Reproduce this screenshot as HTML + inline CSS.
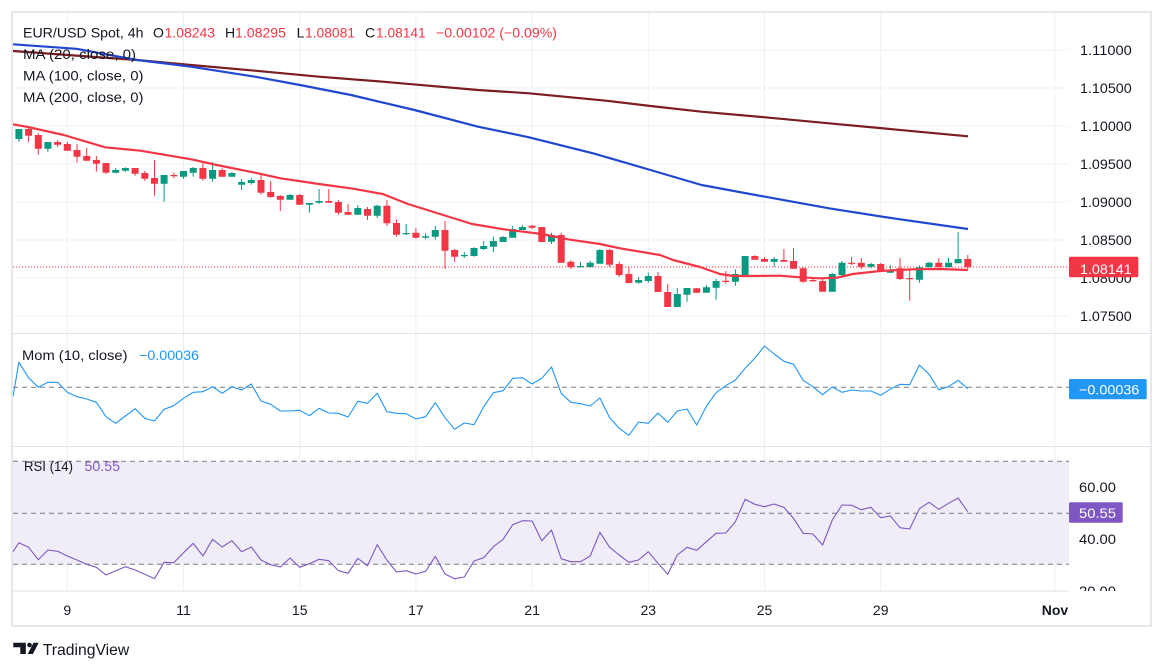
<!DOCTYPE html>
<html><head><meta charset="utf-8"><style>
html,body{margin:0;padding:0;background:#fff;}
body{width:1164px;height:671px;overflow:hidden;}
svg{display:block;font-family:"Liberation Sans",Arial,sans-serif;}
</style></head><body>
<svg width="1164" height="671" viewBox="0 0 1164 671" xmlns="http://www.w3.org/2000/svg">
<defs>
<clipPath id="cm"><rect x="13" y="13" width="1056" height="320"/></clipPath>
<clipPath id="cmo"><rect x="13" y="334" width="1056" height="112"/></clipPath>
<clipPath id="cr"><rect x="13" y="447" width="1056" height="144"/></clipPath>
<clipPath id="cra"><rect x="1069" y="447" width="82" height="144"/></clipPath>
</defs>
<rect x="0" y="0" width="1164" height="671" fill="#fff"/>
<!-- RSI band -->
<rect x="13" y="461.3" width="1056" height="103" fill="#f1edf8"/>
<!-- grid -->
<g stroke="#eef0f4" stroke-width="1">
<path d="M13 50H1069M13 88H1069M13 126H1069M13 164H1069M13 202H1069M13 240H1069M13 278H1069M13 316H1069"/>
<path d="M13 487.3H1069M13 539.3H1069"/>
<path d="M67.3 13V591M183.5 13V591M299.7 13V591M415.9 13V591M532.1 13V591M648.3 13V591M764.5 13V591M880.7 13V591M1055 13V591"/>
</g>
<!-- separators -->
<g stroke="#e0e3eb" stroke-width="1">
<path d="M12 333.5H1151M12 446.5H1151M12 591H1069"/>
</g>
<!-- frame -->
<rect x="12" y="12" width="1139" height="614" fill="none" stroke="#e6e7ec" stroke-width="2"/>

<!-- main pane -->
<g clip-path="url(#cm)">
<path d="M13 267H1069" stroke="#f23645" stroke-width="1" stroke-dasharray="1.2 1.8"/>
<polyline fill="none" stroke="#7b1c22" stroke-width="2.2" stroke-linejoin="round" points="12.8,51 137,60 191,65 255,70.7 319,76.7 382.7,81.7 478,90 529,93.3 606,100.7 650.5,106 701.5,111.7 765,117.3 829,123.3 893,129.3 968,136.3"/>
<polyline fill="none" stroke="#2147d2" stroke-width="2.2" stroke-linejoin="round" points="12.8,44.3 76.5,48.8 137,60 191,66.7 255,76.7 300,85 351,95 414.5,110 478,126.7 529,137.3 593,153.3 650.5,170 701.5,185 765,196.7 829,208.3 893,218.3 968,229"/>
<path fill="none" stroke="#089981" stroke-width="1" d="M18.9 129V142 M47.9 142V151.7 M115.7 168V173.3 M125.4 167.3V171.7 M164.1 175V201.7 M183.5 171V178.7 M193.2 167V176.7 M212.6 162V181.7 M231.9 172V176.7 M241.6 179V190 M251.3 178V184.7 M290 194V199.7 M309.4 203V212.7 M319.1 189V203.7 M357.8 205V214.7 M377.2 204.7V218 M406.2 224V235 M425.6 233.3V239.3 M435.3 226V239.7 M464.3 252V258 M474 247.3V256.7 M483.7 241V250 M493.4 236.7V252 M503.1 236V242 M512.7 225.7V237.7 M522.4 224.7V230 M551.5 232.7V244 M580.5 261.7V267.7 M590.2 260.7V267.7 M599.9 249V263.7 M638.6 277V283.7 M648.3 272.7V282.7 M677.3 288V307 M687 288V301.7 M706.4 285V292.7 M716.1 279V299.7 M735.4 269.3V285.7 M745.1 256V276 M774.2 257V266.7 M832.3 273V291.7 M842 261V276.7 M871 262.7V268.3 M890.4 265V272.7 M919.4 265.3V282.7 M929.1 261.7V267.3 M948.5 258V267.3 M958.1 232V263.3"/>
<path fill="none" stroke="#f23645" stroke-width="1" d="M28.6 127V141.7 M38.3 133V154.7 M57.6 140V146.7 M67.3 142V150.7 M77 144V162.7 M86.7 148V160.7 M96.4 156V171.7 M106 163V173.7 M135.1 168V175.7 M144.8 171V180.7 M154.5 160V195.7 M173.8 172.7V178.3 M202.9 162.7V180.7 M222.2 168.3V176.7 M261 173.3V194.7 M270.7 181V197.7 M280.3 195V211 M299.7 194V204.7 M328.8 189V202.7 M338.4 200V214.7 M348.1 204V214.7 M367.5 207V220 M386.9 200V226 M396.5 219.3V236.7 M415.9 228V238.7 M445 221V269 M454.6 249V261.7 M532.1 224.7V229 M541.8 227V242 M561.2 232.7V262.7 M570.8 260.3V269 M609.6 248.7V267 M619.2 261.7V277 M628.9 267.3V283.3 M658 272V292 M667.7 284V307 M696.7 288V292.7 M725.8 271V283.7 M754.8 255.3V259.7 M764.5 257V261.7 M783.9 249V261.7 M793.5 248V268.7 M803.2 267.3V282.7 M812.9 279V282 M822.6 277.7V291.7 M851.6 257V265 M861.3 258V269.3 M880.7 263V271.3 M900 258V280 M909.7 268.3V300.7 M938.8 258V267.3 M967.8 255V269.3"/>
<path fill="#089981" d="M15.4 129h7v10h-7z M44.4 142h7v6.7h-7z M112.2 170h7v2.7h-7z M121.9 168h7v2.7h-7z M160.6 175h7v8.7h-7z M180 171h7v5.7h-7z M189.7 168h7v4.7h-7z M209.1 170h7v8.7h-7z M228.4 173h7v3.7h-7z M238.1 182h7v2.7h-7z M247.8 180h7v3h-7z M286.5 195h7v4.7h-7z M305.9 203h7v1.7h-7z M315.6 201h7v1.7h-7z M354.3 208h7v6.7h-7z M373.7 205.7h7v10h-7z M402.7 233h7v1.2h-7z M422.1 236.3h7v1.4h-7z M431.8 230h7v6.7h-7z M460.8 255h7v1.3h-7z M470.5 248h7v8h-7z M480.2 246h7v3h-7z M489.9 241h7v5.7h-7z M499.6 237h7v5h-7z M509.2 229h7v8.7h-7z M518.9 227h7v3h-7z M548 235h7v6.7h-7z M577 266h7v1.2h-7z M586.7 262.7h7v4.3h-7z M596.4 250h7v13.7h-7z M635.1 280h7v2.7h-7z M644.8 276h7v5h-7z M673.8 294h7v13h-7z M683.5 288h7v6.7h-7z M702.9 287.3h7v5.4h-7z M712.6 281h7v6.7h-7z M731.9 274h7v7.7h-7z M741.6 256h7v19h-7z M770.7 259h7v2.7h-7z M828.8 274h7v17.7h-7z M838.5 262.7h7v12.3h-7z M867.5 264h7v2.7h-7z M886.9 270h7v2.7h-7z M915.9 267.3h7v12.4h-7z M925.6 262.7h7v4.6h-7z M945 262.7h7v4.6h-7z M954.6 259h7v4.3h-7z"/>
<path fill="#f23645" d="M25.1 129h7v6.7h-7z M34.8 135h7v13.7h-7z M54.1 142h7v2.7h-7z M63.8 144h7v6.7h-7z M73.5 150h7v6.7h-7z M83.2 156h7v4.7h-7z M92.9 160h7v3.7h-7z M102.5 163h7v9.7h-7z M131.6 168h7v5.7h-7z M141.3 173h7v5.7h-7z M151 178h7v5.7h-7z M170.3 175h7v1.2h-7z M199.4 168h7v10.7h-7z M218.7 170h7v6.7h-7z M257.5 180h7v12.7h-7z M267.2 192h7v5h-7z M276.8 196h7v3.7h-7z M296.2 195h7v9.7h-7z M325.3 201h7v1.7h-7z M334.9 202h7v10.7h-7z M344.6 212h7v2.7h-7z M364 209h7v6.7h-7z M383.4 205.7h7v17.6h-7z M393 223h7v11.7h-7z M412.4 232.7h7v5h-7z M441.5 230h7v20.7h-7z M451.1 250h7v6.7h-7z M528.6 225.7h7v2h-7z M538.3 227h7v15h-7z M557.7 235h7v27.7h-7z M567.3 261.7h7v5.3h-7z M606.1 250h7v14.7h-7z M615.7 264h7v11h-7z M625.4 274h7v9h-7z M654.5 276h7v16h-7z M664.2 292h7v15h-7z M693.2 288.3h7v4.4h-7z M722.3 280.7h7v1.3h-7z M751.3 256h7v3.7h-7z M761 259h7v2.7h-7z M780.4 260h7v1.7h-7z M790 261h7v7.7h-7z M799.7 268.3h7v13.4h-7z M809.4 280h7v1.3h-7z M819.1 281h7v10.7h-7z M848.1 262.7h7v1.2h-7z M857.8 262.7h7v4h-7z M877.2 264h7v7.3h-7z M896.5 268.3h7v10.7h-7z M906.2 278h7v1.3h-7z M935.3 262.7h7v4.6h-7z M964.3 259h7v8.3h-7z"/>
<polyline fill="none" stroke="#f23645" stroke-width="2.2" stroke-linejoin="round" points="12.8,124.3 28,127 63.8,135 105.2,147.3 140.3,150.7 191.3,159.3 216.8,165 255,172.7 280.6,178.3 318.9,184 350.8,188.3 382.7,194 408,204 446.4,216 472,224 503.8,229.3 542,234 567.6,239.3 600,244 620,248.3 640,251.7 660,255 673,260 700,267 720,274 733,276 747,276 780,275.7 800,277.3 820,278.3 837,277.7 853,274 880,271 913,269.3 940,269 967.8,270"/>
</g>

<!-- legend main -->
<g font-size="14" fill="#131722">
<text x="23" y="37.5" textLength="120.5" lengthAdjust="spacingAndGlyphs">EUR/USD Spot, 4h</text>
<text x="153" y="37.5">O</text><text x="164.6" y="37.5" fill="#f23645" textLength="50.4" lengthAdjust="spacingAndGlyphs">1.08243</text>
<text x="225" y="37.5">H</text><text x="235" y="37.5" fill="#f23645" textLength="51" lengthAdjust="spacingAndGlyphs">1.08295</text>
<text x="296.6" y="37.5">L</text><text x="305" y="37.5" fill="#f23645" textLength="50" lengthAdjust="spacingAndGlyphs">1.08081</text>
<text x="365" y="37.5">C</text><text x="376" y="37.5" fill="#f23645" textLength="49.6" lengthAdjust="spacingAndGlyphs">1.08141</text>
<text x="436" y="37.5" fill="#f23645" textLength="121" lengthAdjust="spacingAndGlyphs">−0.00102 (−0.09%)</text>
<text x="23" y="59" textLength="113" lengthAdjust="spacingAndGlyphs">MA (20, close, 0)</text>
<text x="23" y="80.5" textLength="120.5" lengthAdjust="spacingAndGlyphs">MA (100, close, 0)</text>
<text x="23" y="102" textLength="120.5" lengthAdjust="spacingAndGlyphs">MA (200, close, 0)</text>
</g>

<!-- price axis -->
<g font-size="14" fill="#131722">
<text x="1080" y="55" textLength="51.7" lengthAdjust="spacingAndGlyphs">1.11000</text>
<text x="1080" y="93" textLength="51.7" lengthAdjust="spacingAndGlyphs">1.10500</text>
<text x="1080" y="131" textLength="51.7" lengthAdjust="spacingAndGlyphs">1.10000</text>
<text x="1080" y="169" textLength="51.7" lengthAdjust="spacingAndGlyphs">1.09500</text>
<text x="1080" y="207" textLength="51.7" lengthAdjust="spacingAndGlyphs">1.09000</text>
<text x="1080" y="245" textLength="51.7" lengthAdjust="spacingAndGlyphs">1.08500</text>
<text x="1080" y="283" textLength="51.7" lengthAdjust="spacingAndGlyphs">1.08000</text>
<text x="1080" y="321" textLength="51.7" lengthAdjust="spacingAndGlyphs">1.07500</text>
</g>
<rect x="1069" y="256.7" width="69.3" height="20.6" rx="1.5" fill="#f23645"/>
<text x="1080" y="274" font-size="14" fill="#fff" textLength="51.7" lengthAdjust="spacingAndGlyphs">1.08141</text>

<!-- momentum pane -->
<g clip-path="url(#cmo)">
<path d="M13 387.3H1069" stroke="#787b86" stroke-width="1" stroke-dasharray="5 4"/>
<polyline fill="none" stroke="#2196f3" stroke-width="1.1" stroke-linejoin="round" points="13,396.7 18.9,362.3 28.6,377.7 38.3,387.3 47.9,382.3 57.6,382.3 67.3,392.3 77,396.7 86.7,399 96.4,402.3 106,416.7 115.7,423.3 125.4,416 135.1,408.7 144.8,418.3 154.5,421 164.1,409.3 173.8,405.7 183.5,398.3 193.2,392.3 202.9,391.7 212.6,386.7 222.2,393.3 231.9,386.7 241.6,390 251.3,384 261,401 270.7,404.3 280.3,411 290,411 299.7,410.3 309.4,415.7 319.1,408.3 328.8,413 338.4,413.3 348.1,417 357.8,401.3 367.5,403.3 377.2,393.3 386.9,411.7 396.5,413.3 406.2,413.7 415.9,419 425.6,416.7 435.3,402.7 445,417.7 454.6,429.3 464.3,423 474,424.7 483.7,406.7 493.4,392.7 503.1,390.7 512.7,378.3 522.4,377.7 532.1,384 541.8,378.3 551.5,367 561.2,393.3 570.8,402.3 580.5,403.7 590.2,406 599.9,398 609.6,417.7 619.2,428.3 628.9,435.3 638.6,422 648.3,423.3 658,413 667.7,422.3 677.3,411 687,409 696.7,425 706.4,406.3 716.1,392.7 725.8,385.7 735.4,380 745.1,368.3 754.8,358.3 764.5,346 774.2,354 783.9,361.3 793.5,364.3 803.2,380.3 812.9,386.7 822.6,394.7 832.3,387 842,392.3 851.6,390 861.3,391 871,391 880.7,395.3 890.4,389 900,384.3 909.7,384.7 919.4,365 929.1,374.3 938.8,389.7 948.5,386.7 958.1,380.3 967.8,388.7"/>
</g>
<text x="22" y="360" font-size="14" fill="#131722" textLength="105.5" lengthAdjust="spacingAndGlyphs">Mom (10, close)</text>
<text x="139" y="360" font-size="14" fill="#2196f3" textLength="60" lengthAdjust="spacingAndGlyphs">−0.00036</text>
<rect x="1069" y="379" width="77.7" height="20.3" rx="1.5" fill="#2196f3"/>
<text x="1079" y="394.5" font-size="14" fill="#fff" textLength="60.3" lengthAdjust="spacingAndGlyphs">−0.00036</text>

<!-- RSI pane -->
<g clip-path="url(#cr)">
<path d="M13 461.3H1069M13 513.3H1069M13 564.3H1069" stroke="#787b86" stroke-width="1" stroke-dasharray="5 4"/>
<polyline fill="none" stroke="#7e57c2" stroke-width="1.1" stroke-linejoin="round" points="13,551.7 18.9,542.7 28.6,547.3 38.3,559.7 47.9,550 57.6,551.3 67.3,556 77,560 86.7,564.3 96.4,567.3 106,575 115.7,570.7 125.4,566.7 135.1,570 144.8,574.3 154.5,578.7 164.1,562.3 173.8,562.7 183.5,552.7 193.2,543.3 202.9,556 212.6,539.3 222.2,547 231.9,540.7 241.6,551.7 251.3,547 261,560 270.7,564.7 280.3,567 290,558 299.7,567.3 309.4,563.7 319.1,559.3 328.8,560.7 338.4,570.7 348.1,573.3 357.8,558.3 367.5,565.7 377.2,544.7 386.9,560 396.5,572 406.2,570.7 415.9,574 425.6,571.3 435.3,556.3 445,574 454.6,578.7 464.3,577 474,561 483.7,557.7 493.4,546.7 503.1,539.3 512.7,524.7 522.4,520.7 532.1,521 541.8,540.7 551.5,530 561.2,558.7 570.8,561.7 580.5,561.7 590.2,556 599.9,532.3 609.6,547.3 619.2,555 628.9,562.3 638.6,560 648.3,551.7 658,563.3 667.7,574.3 677.3,555 687,547.3 696.7,550.3 706.4,541.7 716.1,533.3 725.8,533 735.4,521.7 745.1,499.3 754.8,504.3 764.5,506.7 774.2,504 783.9,507.3 793.5,518.3 803.2,533.3 812.9,534 822.6,545 832.3,520 842,505 851.6,505.3 861.3,509.7 871,507.3 880.7,517.7 890.4,516 900,527.7 909.7,529 919.4,508.7 929.1,502.3 938.8,509.3 948.5,503.3 958.1,498 967.8,511.7"/>
</g>
<text x="24" y="471" font-size="14" fill="#131722" textLength="49" lengthAdjust="spacingAndGlyphs">RSI (14)</text>
<text x="84.5" y="471" font-size="14" fill="#7e57c2" textLength="35.5" lengthAdjust="spacingAndGlyphs">50.55</text>
<g font-size="14" fill="#131722" clip-path="url(#cra)">
<text x="1079" y="492" textLength="37" lengthAdjust="spacingAndGlyphs">60.00</text>
<text x="1079" y="544" textLength="37" lengthAdjust="spacingAndGlyphs">40.00</text>
<text x="1079" y="596" textLength="37" lengthAdjust="spacingAndGlyphs">20.00</text>
</g>
<rect x="1069" y="502.3" width="53.7" height="20.4" rx="1.5" fill="#7e57c2"/>
<text x="1079" y="518" font-size="14" fill="#fff" textLength="37" lengthAdjust="spacingAndGlyphs">50.55</text>

<!-- time axis -->
<g font-size="14" fill="#131722" text-anchor="middle">
<text x="67.3" y="615">9</text>
<text x="183.5" y="615">11</text>
<text x="299.7" y="615">15</text>
<text x="415.9" y="615">17</text>
<text x="532.1" y="615">21</text>
<text x="648.3" y="615">23</text>
<text x="764.5" y="615">25</text>
<text x="880.7" y="615">29</text>
<text x="1055" y="615" font-weight="bold">Nov</text>
</g>

<!-- TradingView logo -->
<g fill="#131722">
<path d="M13.3 642.7h12.5v11.3h-5.5v-6.8h-7z"/>
<circle cx="29.5" cy="645" r="2.3"/>
<path d="M33.5 642.7h5.2l-5.8 11.3h-5.2z"/>
</g>
<text x="42.7" y="655" font-size="16" fill="#131722" textLength="86.6" lengthAdjust="spacingAndGlyphs">TradingView</text>
</svg>
</body></html>
